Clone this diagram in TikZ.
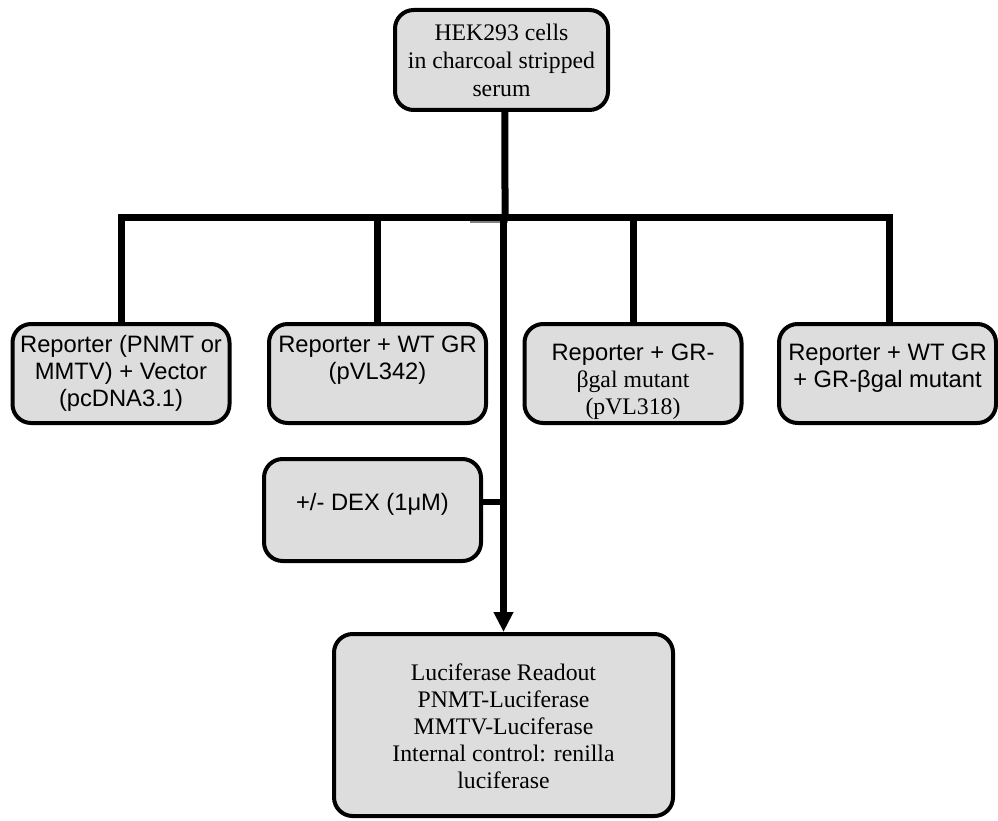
\documentclass[tikz,border=0pt]{standalone}
\usepackage{fontspec}
\setmainfont{Liberation Serif}
\newfontfamily\sansf{Liberation Sans}
\usetikzlibrary{arrows.meta}
\definecolor{boxfill}{RGB}{221,221,221}
\newcommand{\bxt}[4]{\parbox[c][#1][t]{#2}{\centering\rule{0pt}{#3}#4}}
\tikzset{
  flowbox/.style={draw=black, line width=3pt, fill=boxfill, rounded corners=14pt, inner sep=0pt, outer sep=0pt},
  link/.style={line width=5.25pt, black},
}
\begin{document}
\begin{tikzpicture}[x=0.75pt, y=-0.75pt]
\useasboundingbox (0,0) rectangle (998,820);

\node[flowbox] (top) at (501.5,60)
  {\bxt{75pt}{159.75pt}{23.25pt}{\fontsize{17.8pt}{21pt}\selectfont HEK293 cells\\in charcoal stripped\\serum}};

\node[flowbox] (b1) at (121,373.5)
  {\bxt{74.25pt}{162.75pt}{21pt}{\sansf\fontsize{17.8pt}{20.25pt}\selectfont Reporter (PNMT or\\MMTV) + Vector\\(pcDNA3.1)}};
\node[flowbox] (b2) at (377.5,373.5)
  {\bxt{74.25pt}{162.75pt}{21pt}{\sansf\fontsize{17.8pt}{20.25pt}\selectfont Reporter + WT GR\\(pVL342)}};
\node[flowbox] (b3) at (633,373.5)
  {\bxt{74.25pt}{162.75pt}{27pt}{\fontsize{17.8pt}{20.25pt}\selectfont{\sansf Reporter + GR-}\\βgal mutant\\(pVL318)}};
\node[flowbox] (b4) at (887.5,373.5)
  {\bxt{74.25pt}{162.75pt}{27pt}{\sansf\fontsize{17.8pt}{20.25pt}\selectfont Reporter + WT GR\\+ GR-βgal mutant}};

\node[flowbox] (dex) at (372.5,510)
  {\bxt{76.5pt}{162.75pt}{38.25pt}{\sansf\fontsize{17.8pt}{20.25pt}\selectfont +/- DEX (1μM)}};

\node[flowbox] (bot) at (503.5,725)
  {\bxt{136.5pt}{254.25pt}{34.5pt}{\fontsize{17.8pt}{20.25pt}\selectfont Luciferase Readout\\PNMT-Luciferase\\MMTV-Luciferase\\Internal control: renilla\\luciferase}};

\coordinate (barL) at (121.5,217.5);
\coordinate (barR) at (889.5,217.5);
\coordinate (drop) at (505,217.5);
\coordinate (dexj) at (504,502);
\coordinate (gA) at (470,222);
\coordinate (gB) at (508,222);

% top to bar
\draw[link] ([xshift=2.6pt]top.south) -- (drop);
% bar with outer branches
\draw[link] (b1.north) |- (barR) -- (barR |- b4.north);
\draw[link] (b2.north) -- (b2.north |- barL);
\draw[link] (b3.north) -- (b3.north |- barL);
% thin grey seam
\draw[gray, line width=0.8pt] (gA) -- (gB);
% main down arrow
\draw[link, -{Triangle[length=15pt, width=14pt]}] (bot.north |- barL) -- ([yshift=1.5pt]bot.north);
% DEX to main line
\draw[line width=4.5pt] (dex.east |- dexj) -- (dexj);
\end{tikzpicture}
\end{document}
